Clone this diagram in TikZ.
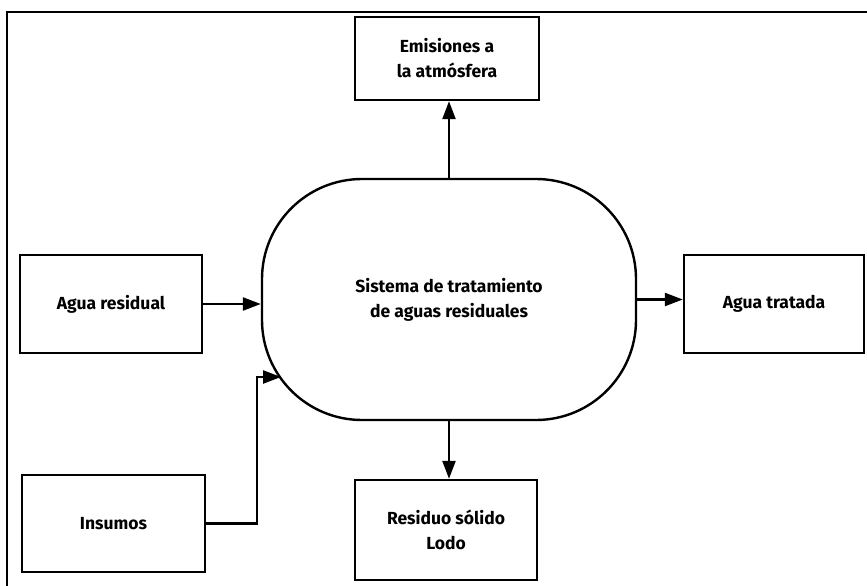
\documentclass[tikz,border=0pt]{standalone}
\usepackage{fontspec}
\setmainfont{Fira Sans}
\usetikzlibrary{arrows.meta}
\begin{document}
\begin{tikzpicture}[x=1pt,y=-1pt,
  box/.style={draw,line width=2.4pt,rectangle,align=center,inner sep=0pt,
    font=\fontsize{17.5}{25}\selectfont\bfseries},
  flow/.style={line width=2.4pt,-{Triangle[length=18pt,width=13pt]}}]
\useasboundingbox (0,0) rectangle (867,586);
\draw[line width=2pt] (7,586) -- (7,12) -- (867,12);
\node[box,minimum width=184pt,minimum height=83pt] (emi) at (447,58.5) {Emisiones a\\la atmósfera};
\node[box,minimum width=374pt,minimum height=241pt,rounded corners=100pt] (sys) at (449,299.5) {Sistema de tratamiento\\de aguas residuales};
\node[box,minimum width=182pt,minimum height=98pt] (agr) at (111,304) {Agua residual};
\node[box,minimum width=183pt,minimum height=97pt] (ins) at (113.5,523.5) {Insumos};
\node[box,minimum width=180pt,minimum height=98pt] (agt) at (774,304) {Agua tratada};
\node[box,minimum width=182pt,minimum height=100pt] (res) at (446,530) {Residuo sólido\\Lodo};
\coordinate (bend) at (257,377);
\coordinate (tip) at (281,377);
\draw[flow] (agr.east) -- (agr.east -| sys.west);
\draw[flow] (sys.east) -- (sys.east -| agt.west);
\draw[flow] (sys.north) -- (sys.north |- emi.south);
\draw[flow] (sys.south) -- (sys.south |- res.north);
\draw[flow] (ins.east) -| (bend) -- (tip);
\end{tikzpicture}
\end{document}
